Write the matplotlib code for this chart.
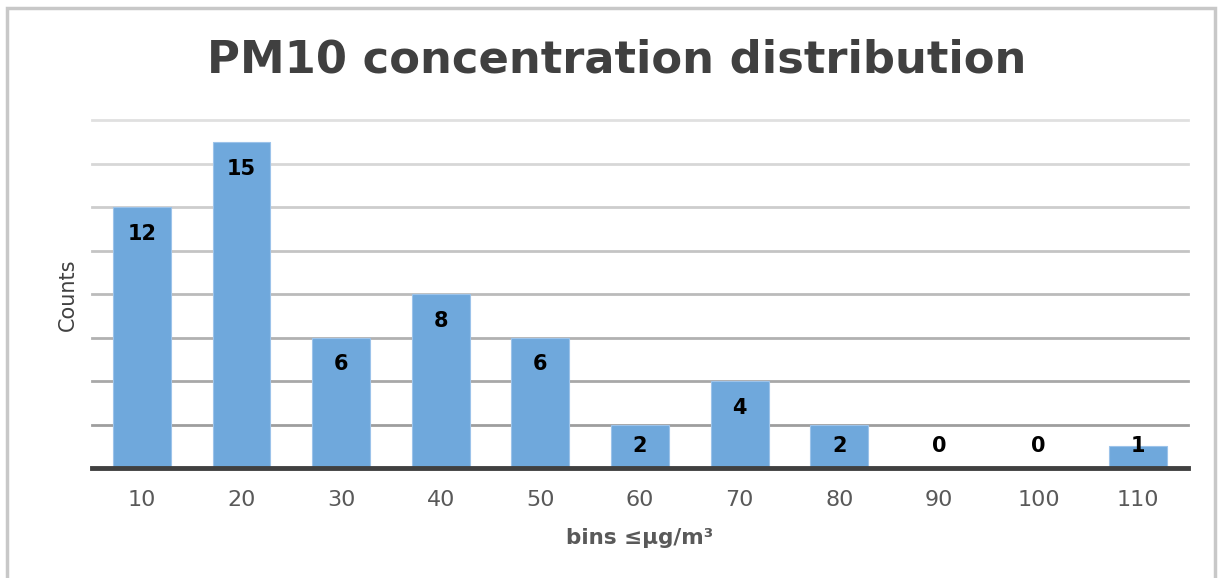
import matplotlib
matplotlib.use("Agg")
import matplotlib.pyplot as plt
from matplotlib.patches import Rectangle
import numpy as np

plt.rcParams['font.family'] = ['DejaVu Sans']

bins = ["10", "20", "30", "40", "50", "60", "70", "80", "90", "100", "110"]
counts = [12, 15, 6, 8, 6, 2, 4, 2, 0, 0, 1]
grid_levels = [2, 4, 6, 8, 10, 12, 14, 16]

title = "PM10 concentration distribution"
xlabel = "bins \u2264\u00b5g/m\u00b3"
ylabel = "Counts"

W, H = 1223, 578
fig = plt.figure(figsize=(W / 100, H / 100), dpi=100)
fig.patch.set_facecolor("white")

# light frame around the whole chart area
fig.patches.append(Rectangle((7 / W, -0.01), (1215 - 7) / W, 1.01 - 8 / H,
                             transform=fig.transFigure, fill=False,
                             edgecolor="#c8c8c8", linewidth=2.5))

left, right, top, bottom = 92, 1188, 120, 468
ax = fig.add_axes([left / W, 1 - bottom / H, (right - left) / W, (bottom - top) / H])

x = np.arange(len(bins))

# gridlines, fading from darker near the base to lighter at the top
shades = np.linspace(0.62, 0.88, len(grid_levels))
for lvl, s in zip(grid_levels, shades):
    ax.axhline(lvl, color=(s, s, s), linewidth=2, zorder=0.5, clip_on=False)

ax.bar(x, counts, width=0.58, color="#6FA8DC", edgecolor="#9cc3ea",
       linewidth=0.8, zorder=2)

ax.axhline(0, color="#404040", linewidth=3.5, zorder=3, clip_on=False)

for xi, v in zip(x, counts):
    y = max(v - 1.24, 1.0)
    ax.text(xi, y, str(v), ha="center", va="center", fontsize=15,
            fontweight="bold", color="black", zorder=4)

ax.set_xlim(-0.5, len(bins) - 0.5)
ax.set_ylim(0, 16)
ax.set_xticks(x)
ax.set_xticklabels(bins, fontsize=16, color="#595959")
ax.tick_params(axis="x", length=0, pad=16)
ax.set_yticks([])
for sp in ax.spines.values():
    sp.set_visible(False)

fig.text(617 / W, 1 - 60 / H, title, ha="center", va="center",
         fontsize=32.3, fontweight="bold", color="#404040")
fig.text(640 / W, 1 - 538 / H, xlabel, ha="center", va="center",
         fontsize=15.5, fontweight="bold", color="#595959")
fig.text(68 / W, 1 - 295 / H, ylabel, ha="center", va="center",
         fontsize=15, color="#404040", rotation=90)

fig.savefig("out.png", dpi=100, facecolor="white")
